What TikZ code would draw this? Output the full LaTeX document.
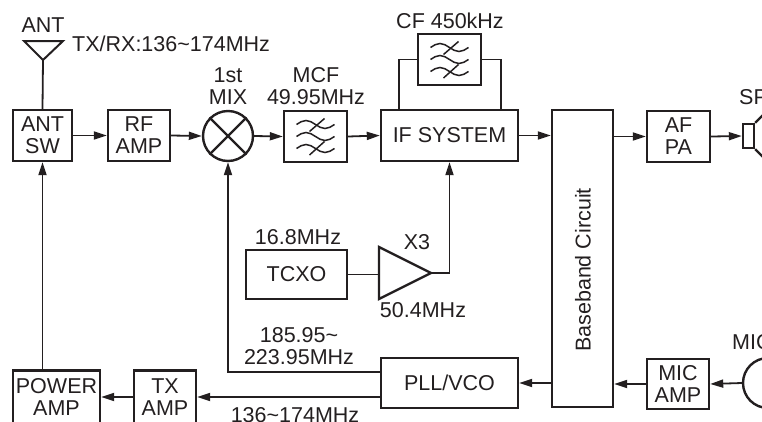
\documentclass[tikz,border=0pt]{standalone}
\usepackage{fontspec}
\setmainfont{Liberation Sans}
\usetikzlibrary{arrows.meta}
\definecolor{ink}{RGB}{35,31,32}
\begin{document}
\begin{tikzpicture}[x=1pt,y=-1pt,
  font=\fontsize{21.5}{22}\selectfont,
  every node/.style={text=ink},
  blk/.style={draw=ink,line width=2.4pt,inner sep=0pt,align=center},
  conn/.style={draw=ink,line width=1.8pt},
  arr/.style={conn,-{Triangle[length=13pt,width=8pt]}},
  lbl/.style={inner sep=0pt,align=center},
  filt/.pic={
    \foreach \dy in {-12,0,12}{
      \draw[ink,line width=1.5pt] (-19,\dy) sin (-9.5,\dy-4) cos (0,\dy) sin (9.5,\dy+4) cos (19,\dy);
    }
    \draw[ink,line width=1.5pt] (-6,-5) -- (9,-18);
    \draw[ink,line width=1.5pt] (-6,18.5) -- (9,5);
  }]
\useasboundingbox (0,0) rectangle (762,421);
\clip (0,0) rectangle (762,421);

% blocks
\node[blk,minimum width=59pt,minimum height=51pt] (antsw) at (42.5,135.5) {ANT\\SW};
\node[blk,minimum width=62pt,minimum height=51pt] (rfamp) at (139,135.5) {RF\\AMP};
\node[draw=ink,line width=2.4pt,circle,inner sep=0pt,minimum size=50pt] (mix) at (228,136) {};
\draw[ink,line width=2.2pt] (mix.north west) -- (mix.south east);
\draw[ink,line width=2.2pt] (mix.north east) -- (mix.south west);
\node[blk,minimum width=63pt,minimum height=51pt] (mcf) at (315.5,136.5) {};
\pic at (315.5,136.5) {filt};
\node[blk,minimum width=137pt,minimum height=51pt] (ifsys) at (449.5,135.5) {IF SYSTEM};
\node[blk,minimum width=63pt,minimum height=51pt] (cf) at (449.5,59.5) {};
\pic at (449.5,59.5) {filt};
\node[blk,minimum width=61pt,minimum height=297pt] (bb) at (582.5,258.5) {};
\node[lbl,rotate=90] (bbtxt) at (583,270) {Baseband Circuit};
\node[blk,minimum width=63pt,minimum height=51pt] (afpa) at (678.5,136.5) {AF\\PA};
\node[blk,minimum width=11pt,minimum height=24pt] (spk) at (748.5,136) {};
\draw[ink,line width=2.2pt] (spk.north east) -- ++(36,-36);
\draw[ink,line width=2.2pt] (spk.south east) -- ++(36,36);
\node[blk,minimum width=101pt,minimum height=49pt] (tcxo) at (296.5,274.5) {TCXO};
\node[blk,minimum width=137pt,minimum height=50pt] (pll) at (449.5,383) {PLL/VCO};
\node[blk,minimum width=62pt,minimum height=50pt] (micamp) at (678,384) {MIC\\AMP};
\node[draw=ink,line width=2.4pt,circle,inner sep=0pt,minimum size=50pt] (mic) at (768,383) {};
\node[blk,minimum width=87pt,minimum height=53pt] (pa) at (56.5,397) {POWER\\AMP};
\node[blk,minimum width=62pt,minimum height=53pt] (txamp) at (165,397) {TX\\AMP};

% antenna
\coordinate (anttip) at (43,60);
\draw[ink,line width=2pt,line join=miter] (24,41) -- (63,41) -- (anttip) -- cycle;
\draw[conn] (anttip) -- (antsw.north);

% x3 amplifier
\coordinate (ampL) at (379,274.5);
\coordinate (ampT) at (431,273);
\draw[ink,line width=2.4pt,line join=miter] (379,247) -- (ampT) -- (379,299) -- cycle;

% CF bypass
\coordinate (cfl) at (399,110);
\coordinate (cfr) at (501,110);
\draw[conn] (cf.west) -| (cfl);
\draw[conn] (cf.east) -| (cfr);

% LO line
\coordinate (lo) at (228,372);

% connectors
\draw[arr] (antsw.east) -- (rfamp.west);
\draw[arr] (rfamp.east) -- (mix.west);
\draw[arr] (mix.east) -- (mcf.west);
\draw[arr] (mcf.east) -- (ifsys.west);
\draw[arr] (ifsys.east) -- (ifsys.east -| bb.west);
\draw[arr] (afpa.west -| bb.east) -- (afpa.west);
\draw[arr] (afpa.east) -- (spk.west);
\draw[conn] (tcxo.east) -- (ampL);
\draw[arr] (ampT) -| (ifsys.south);
\draw[arr] (pll.west |- lo) -- (lo) -- (mix.south);
\draw[arr] (bb.west |- pll.east) -- (pll.east);
\draw[arr] (micamp.west) -- (micamp.west -| bb.east);
\draw[arr] (mic.west) -- (micamp.east);
\draw[arr] (pll.west |- txamp.east) -- (txamp.east);
\draw[arr] (txamp.west) -- (pa.east);
\draw[arr] (antsw.south |- pa.north) -- (antsw.south);

% labels
\node[lbl] (lant) at (43,25) {ANT};
\node[lbl,anchor=west] (ltxrx) at (72,44) {TX/RX:136\textasciitilde174MHz};
\node[lbl] (lmix) at (228,86) {1st\\MIX};
\node[lbl] (lmcf) at (316,86) {MCF\\49.95MHz};
\node[lbl] (lcf) at (450,21) {CF 450kHz};
\node[lbl] (l168) at (298,237) {16.8MHz};
\node[lbl] (lx3) at (417,242) {X3};
\node[lbl] (l504) at (423,310) {50.4MHz};
\node[lbl] (llo) at (299,346.5) {185.95\textasciitilde\\223.95MHz};
\node[lbl] (ltx) at (295,415) {136\textasciitilde174MHz};
\node[lbl,anchor=west] (lsp) at (739,97) {SP};
\node[lbl,anchor=west] (lmic) at (732,342) {MIC};
\end{tikzpicture}
\end{document}
